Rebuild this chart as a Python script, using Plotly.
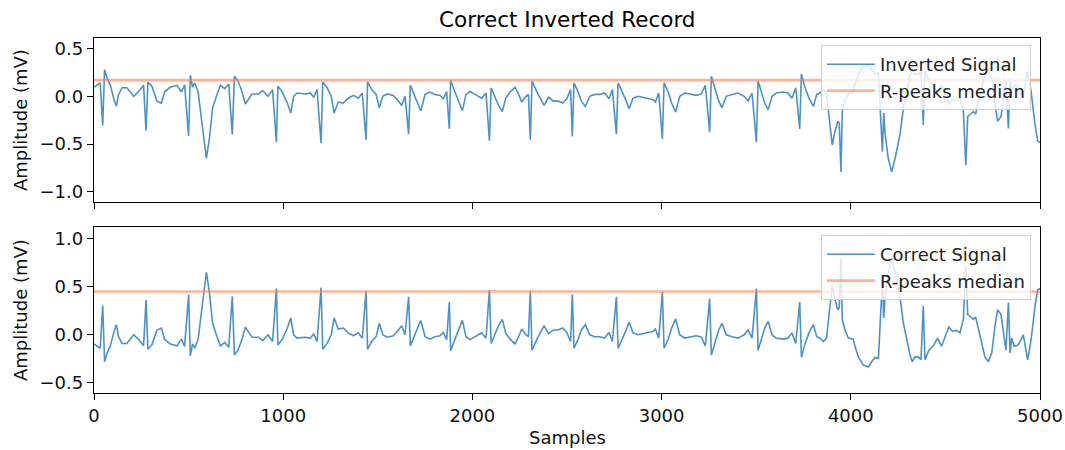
import plotly.graph_objects as go

# ---- data (sample index, amplitude in mV of the correct signal) ----
samples = [0, 21, 33, 46, 56, 69, 86, 104, 118, 130, 148, 174, 210, 236, 262, 275, 285, 306, 333, 356,
           374, 403, 439, 462, 479, 500, 509, 521, 532, 550, 571, 594, 610, 627, 650, 668, 691, 712, 731, 742,
           761, 782, 800, 818, 835, 870, 892, 920, 944, 964, 972, 994, 1020, 1040, 1055, 1073, 1117, 1144, 1161, 1179,
           1200, 1209, 1232, 1254, 1269, 1291, 1318, 1344, 1371, 1397, 1418, 1438, 1446, 1468, 1491, 1508, 1526, 1550, 1582, 1609,
           1626, 1644, 1663, 1672, 1691, 1709, 1727, 1750, 1776, 1802, 1829, 1846, 1864, 1878, 1885, 1908, 1928, 1947, 1966, 1987,
           2023, 2049, 2072, 2090, 2099, 2120, 2137, 2158, 2176, 2199, 2225, 2243, 2261, 2278, 2296, 2306, 2315, 2340, 2361, 2379,
           2402, 2428, 2454, 2477, 2499, 2519, 2528, 2537, 2558, 2576, 2597, 2620, 2646, 2673, 2699, 2722, 2740, 2761, 2770, 2791,
           2810, 2828, 2849, 2875, 2902, 2928, 2955, 2967, 2985, 3004, 3013, 3034, 3055, 3074, 3096, 3122, 3154, 3184, 3210, 3231,
           3254, 3263, 3281, 3302, 3319, 3342, 3372, 3404, 3436, 3457, 3478, 3501, 3510, 3527, 3545, 3563, 3584, 3607, 3642, 3668,
           3689, 3709, 3730, 3739, 3756, 3779, 3802, 3820, 3837, 3855, 3872, 3886, 3902, 3916, 3931, 3939, 3948, 3955, 3969, 3987,
           4013, 4022, 4040, 4066, 4093, 4110, 4128, 4146, 4160, 4167, 4174, 4181, 4198, 4216, 4234, 4260, 4278, 4295, 4313, 4325,
           4339, 4357, 4371, 4383, 4392, 4413, 4436, 4459, 4480, 4502, 4519, 4537, 4560, 4577, 4595, 4608, 4618, 4630, 4648, 4660,
           4671, 4692, 4709, 4727, 4745, 4762, 4776, 4794, 4812, 4820, 4833, 4842, 4850, 4864, 4886, 4912, 4935, 4953, 4974, 4988,
           5000]
correct_mv = [-0.095, -0.12, -0.14, 0.305, -0.28, -0.19, -0.12, 0.02, 0.105, -0.02, -0.09, -0.09, 0.0, -0.05, -0.115, 0.36, -0.15, -0.105, 0.05, 0.07,
              -0.05, -0.095, -0.115, -0.045, -0.12, 0.415, -0.22, -0.095, -0.14, -0.05, 0.30, 0.65, 0.44, 0.12, -0.02, -0.115, -0.08, -0.13, 0.40, -0.21,
              -0.16, -0.05, 0.08, 0.02, -0.025, -0.025, -0.06, 0.0, -0.07, 0.48, -0.105, -0.05, 0.06, 0.175, 0.0, -0.035, -0.025, -0.035, 0.01, -0.07,
              0.49, -0.15, -0.09, 0.0, 0.175, 0.06, 0.07, 0.02, -0.01, 0.02, -0.035, 0.455, -0.15, -0.07, -0.02, 0.12, 0.0, -0.025, -0.01, 0.05,
              0.095, 0.0, 0.395, -0.115, -0.02, 0.06, 0.15, -0.02, -0.045, -0.02, -0.01, 0.025, -0.05, 0.34, -0.165, -0.045, 0.05, 0.15, -0.02, -0.05,
              -0.01, 0.02, -0.035, 0.465, -0.09, 0.0, 0.09, 0.16, 0.02, -0.045, -0.095, -0.025, 0.06, 0.01, -0.02, 0.455, -0.16, -0.05, 0.025, 0.095,
              0.01, 0.05, 0.05, 0.07, 0.025, -0.07, 0.42, -0.14, -0.05, 0.05, 0.105, 0.0, -0.02, -0.02, -0.035, 0.025, -0.07, 0.395, -0.14, -0.05,
              0.035, 0.13, 0.02, 0.0, 0.01, 0.025, 0.035, 0.06, -0.035, 0.445, -0.14, -0.05, 0.08, 0.165, 0.0, -0.035, -0.02, -0.01, -0.025, -0.115,
              0.375, -0.21, -0.09, 0.05, 0.12, 0.0, -0.02, -0.035, 0.0, 0.05, -0.035, 0.48, -0.16, -0.035, 0.07, 0.14, 0.0, -0.035, -0.045, -0.035,
              0.02, -0.09, 0.34, -0.235, -0.105, 0.02, 0.105, -0.02, -0.035, -0.07, -0.035, 0.23, 0.51, 0.37, 0.26, 0.28, 0.79, 0.16, 0.05, -0.035,
              -0.045, -0.12, -0.23, -0.315, -0.335, -0.28, -0.235, -0.245, 0.30, 0.58, 0.175, 0.385, 0.65, 0.79, 0.65, 0.40, 0.12, -0.05, -0.21, -0.28,
              -0.23, -0.23, -0.26, 0.30, -0.26, -0.16, -0.115, -0.035, -0.12, 0.0, 0.08, 0.035, 0.045, 0.02, 0.16, 0.72, 0.21, 0.19, 0.16, 0.185,
              0.09, -0.07, -0.23, -0.28, -0.19, 0.09, 0.26, 0.21, -0.02, -0.16, 0.335, -0.19, -0.035, -0.12, -0.105, 0.0, -0.26, -0.05, 0.30, 0.47,
              0.48]
inverted_mv = [-v for v in correct_mv]

inverted_median = 0.17
correct_median = 0.45
x_ticks = [0, 1000, 2000, 3000, 4000, 5000]

SIG = "rgba(31,119,180,0.8)"
MED = "rgba(255,127,80,0.6)"
FONT = "DejaVu Sans"

fig = go.Figure()
fig.add_trace(go.Scatter(x=samples, y=inverted_mv, mode="lines", name="Inverted Signal",
                         line=dict(color=SIG, width=1.6), xaxis="x", yaxis="y", legend="legend"))
fig.add_trace(go.Scatter(x=[0, 5000], y=[inverted_median, inverted_median], mode="lines", name="R-peaks median",
                         line=dict(color=MED, width=2.6), xaxis="x", yaxis="y", legend="legend"))
fig.add_trace(go.Scatter(x=samples, y=correct_mv, mode="lines", name="Correct Signal",
                         line=dict(color=SIG, width=1.6), xaxis="x2", yaxis="y2", legend="legend2"))
fig.add_trace(go.Scatter(x=[0, 5000], y=[correct_median, correct_median], mode="lines", name="R-peaks median",
                         line=dict(color=MED, width=2.6), xaxis="x2", yaxis="y2", legend="legend2"))

W, H = 1065, 450
xd = [94 / W, 1040 / W]
axis_common = dict(showline=True, linecolor="black", linewidth=1.3, mirror=True, ticks="outside",
                   ticklen=6, tickwidth=1.3, tickcolor="black", showgrid=False, zeroline=False,
                   automargin=False, tickfont=dict(family=FONT, size=18, color="#111"))

legend_common = dict(bgcolor="rgba(255,255,255,0.8)", bordercolor="#d0d0d0", borderwidth=1,
                     font=dict(family=FONT, size=18, color="#222"), xref="container", yref="container",
                     xanchor="right", yanchor="top", tracegroupgap=0, itemwidth=48)

fig.update_layout(
    width=W, height=H, margin=dict(l=0, r=0, t=0, b=0, autoexpand=False),
    plot_bgcolor="white", paper_bgcolor="white", showlegend=True,
    xaxis=dict(domain=xd, range=[0, 5000], tickvals=x_ticks, showticklabels=False, anchor="y", **axis_common),
    yaxis=dict(domain=[(H - 202) / H, (H - 38) / H], range=[-1.105, 0.61], tickvals=[-1.0, -0.5, 0.0, 0.5],
               tickformat=".1f", anchor="x", **axis_common),
    xaxis2=dict(domain=xd, range=[0, 5000], tickvals=x_ticks, tickformat="d", anchor="y2", **axis_common),
    yaxis2=dict(domain=[(H - 393) / H, (H - 227) / H], range=[-0.605, 1.12], tickvals=[-0.5, 0.0, 0.5, 1.0],
                tickformat=".1f", anchor="x2", **axis_common),
    legend=dict(x=1031 / W, y=(H - 45) / H, **legend_common),
    legend2=dict(x=1031 / W, y=(H - 235) / H, **legend_common),
    annotations=[
        dict(text="Correct Inverted Record", x=567 / W, y=(H - 20) / H, xref="paper", yref="paper",
             showarrow=False, font=dict(family=FONT, size=21.5, color="black"), xanchor="center", yanchor="middle"),
        dict(text="Amplitude (mV)", x=20 / W, y=(H - 120) / H, xref="paper", yref="paper", textangle=-90,
             showarrow=False, font=dict(family=FONT, size=18, color="#111"), xanchor="center", yanchor="middle"),
        dict(text="Amplitude (mV)", x=20 / W, y=(H - 310) / H, xref="paper", yref="paper", textangle=-90,
             showarrow=False, font=dict(family=FONT, size=18, color="#111"), xanchor="center", yanchor="middle"),
        dict(text="Samples", x=567 / W, y=(H - 437) / H, xref="paper", yref="paper",
             showarrow=False, font=dict(family=FONT, size=18, color="#111"), xanchor="center", yanchor="middle"),
    ],
)

fig.write_html("out.html")
